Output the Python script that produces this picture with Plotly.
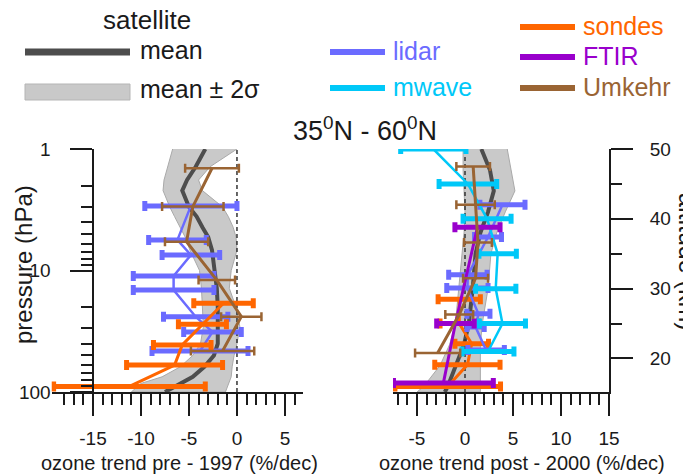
import plotly.graph_objects as go

W, H = 683, 475
FONT = "Liberation Sans, Arial, sans-serif"

# ---------------- colours ----------------
C_MEAN = "#4d4d4d"
C_BAND = "#c9c9c9"
C_BAND_EDGE = "#a9a9a9"
C_LIDAR = "#6b6bff"
C_MWAVE = "#00c8f8"
C_SONDES = "#ff6600"
C_FTIR = "#9900cc"
C_UMK = "#9a6433"

# ---------------- left panel: pre-1997 trends vs pressure (hPa) ----------------
sat_pre_p = [1, 1.4, 1.8, 2.2, 3, 3.6, 4.4, 5.3, 6.8, 10, 14, 20, 29, 40, 50, 62, 75, 85, 100]
sat_pre_mean = [-3.3, -4.3, -5.2, -5.7, -5.0, -4.2, -3.6, -3.0, -2.6, -2.3, -2.1, -2.0, -2.0, -2.0, -2.4, -3.4, -4.6, -5.8, -7.5]
sat_pre_lo = [-6.7, -7.2, -7.6, -7.7, -7.0, -6.5, -5.9, -5.4, -4.9, -3.9, -3.7, -3.6, -3.5, -3.8, -4.6, -5.9, -7.8, -10.0, -11.0]
sat_pre_hi = [0.0, -2.8, -4.0, -3.6, -1.5, -0.9, -0.4, -0.1, 0.0, -0.6, -0.8, -0.1, 0.3, 0.0, -0.3, -0.5, -0.6, -0.9, -1.2]

lidar_pre_p = [2.94, 5.6, 7.45, 11.1, 14.5, 24, 32, 46]
lidar_pre_trend = [-4.8, -6.2, -4.8, -6.6, -6.6, -4.3, -2.55, -3.85]
lidar_pre_err = [4.8, 3.0, 3.0, 4.2, 4.2, 3.35, 3.0, 5.0]

sondes_pre_p = [18.6, 27.7, 41, 60, 90]
sondes_pre_trend = [-1.4, -3.6, -5.7, -6.5, -11.2]
sondes_pre_err = [3.1, 2.5, 3.0, 5.0, 7.9]

umkehr_pre_p = [1.44, 2.98, 5.8, 12, 24, 46]
umkehr_pre_trend = [-2.6, -4.6, -5.25, -2.1, 0.45, -1.5]
umkehr_pre_err = [2.8, 3.2, 2.25, 1.9, 2.1, 3.3]

# ---------------- right panel: post-2000 trends vs altitude (km) ----------------
sat_post_z = [50, 47, 44, 41, 38, 35, 30, 25, 22, 19, 16, 15.2]
sat_post_mean = [1.7, 2.6, 3.0, 2.4, 1.6, 1.1, 0.8, 0.4, -0.1, -0.9, -1.8, -2.1]
sat_post_lo = [-0.2, -0.2, -0.1, 0.0, -0.1, -0.3, -0.6, -1.0, -1.6, -2.6, -4.3, -5.0]
sat_post_hi = [4.4, 4.8, 5.2, 4.2, 3.3, 2.7, 2.4, 1.8, 1.6, 1.6, 1.6, 1.6]

mwave_post_z = [50, 45, 40, 35, 30, 25, 21]
mwave_post_trend = [-3.3, 0.3, 2.3, 3.4, 3.2, 3.9, 2.4]
mwave_post_err = [3.4, 3.0, 2.5, 1.95, 2.1, 2.4, 2.7]

lidar_post_z = [42, 37.4, 32, 30.1, 26.4, 24.5, 21.2]
lidar_post_trend = [3.9, 2.4, 0.3, 0.25, 1.4, 1.1, 2.2]
lidar_post_err = [2.35, 1.4, 2.0, 2.15, 1.2, 0.9, 1.9]

ftir_post_z = [38.8, 25.0, 16.5]
ftir_post_trend = [1.3, -1.0, -2.25]
ftir_post_err = [2.35, 1.95, 5.2]

sondes_post_z = [28.5, 25.0, 22.1, 19.1, 16.0]
sondes_post_trend = [-0.6, -0.6, 0.7, 0.25, -1.8]
sondes_post_err = [2.2, 2.0, 1.75, 3.4, 5.5]

umkehr_post_z = [47.5, 42.0, 36.6, 31.5, 26.3, 20.8]
umkehr_post_trend = [0.85, 1.1, 1.35, 1.1, -0.6, -2.85]
umkehr_post_err = [1.75, 2.0, 1.45, 1.3, 1.45, 2.35]

# ---------------- axes ----------------
pre_xrange = [-19.3, 6.9]
pre_xticks = [-15, -10, -5, 0, 5]
pre_xminor = list(range(-18, 7))
post_xrange = [-7.5, 15]
post_xticks = [-5, 0, 5, 10, 15]
post_xminor = list(range(-7, 15))
p_range = [100, 1]
p_ticks = [1, 10, 100]
p_minor = [2, 3, 4, 5, 6, 7, 8, 9, 20, 30, 40, 50, 60, 70, 80, 90]
z_range = [15.2, 50]
z_ticks = [20, 30, 40, 50]
z_minor = [25, 35, 45]


def fx(px):
    return px / W


def fy(py):
    return 1 - py / H


def lbl(v):
    return str(v)  # plain hyphen-minus like the reference


fig = go.Figure()


def band(lo, hi, y, xa, ya):
    fig.add_trace(go.Scatter(
        x=lo + hi[::-1], y=y + y[::-1], mode="lines", fill="toself",
        fillcolor=C_BAND, line=dict(color=C_BAND_EDGE, width=1),
        xaxis=xa, yaxis=ya, showlegend=False, hoverinfo="skip"))


def line(x, y, color, w, xa, ya, dash=None):
    fig.add_trace(go.Scatter(
        x=x, y=y, mode="lines", line=dict(color=color, width=w, dash=dash),
        xaxis=xa, yaxis=ya, showlegend=False, hoverinfo="skip"))


def instr(x, y, err, color, lw, thick, capw, xa, ya):
    fig.add_trace(go.Scatter(
        x=x, y=y, mode="lines", line=dict(color=color, width=lw),
        error_x=dict(type="data", array=err, visible=True, color=color,
                     thickness=thick, width=capw),
        xaxis=xa, yaxis=ya, showlegend=False, hoverinfo="skip"))


# left panel
band(sat_pre_lo, sat_pre_hi, sat_pre_p, "x", "y")
line(sat_pre_mean, sat_pre_p, C_MEAN, 4, "x", "y")
line([0, 0], p_range, "#333333", 1.5, "x", "y", dash="4px,3px")
instr(lidar_pre_trend, lidar_pre_p, lidar_pre_err, C_LIDAR, 2.5, 5, 5, "x", "y")
instr(sondes_pre_trend, sondes_pre_p, sondes_pre_err, C_SONDES, 3, 5, 5, "x", "y")
instr(umkehr_pre_trend, umkehr_pre_p, umkehr_pre_err, C_UMK, 3, 2.5, 4.5, "x", "y")

# right panel
band(sat_post_lo, sat_post_hi, sat_post_z, "x2", "y2")
line(sat_post_mean, sat_post_z, C_MEAN, 4, "x2", "y2")
line([0, 0], z_range, "#333333", 1.5, "x2", "y2", dash="4px,3px")
instr(sondes_post_trend, sondes_post_z, sondes_post_err, C_SONDES, 3, 5, 5, "x2", "y2")
instr(lidar_post_trend, lidar_post_z, lidar_post_err, C_LIDAR, 2.5, 5, 5, "x2", "y2")
instr(mwave_post_trend, mwave_post_z, mwave_post_err, C_MWAVE, 2.5, 5, 5, "x2", "y2")
instr(ftir_post_trend, ftir_post_z, ftir_post_err, C_FTIR, 3, 5, 5, "x2", "y2")
instr(umkehr_post_trend, umkehr_post_z, umkehr_post_err, C_UMK, 3, 2.5, 4.5, "x2", "y2")

tickfont = dict(family=FONT, size=19, color="#1a1a1a")
common = dict(showgrid=False, zeroline=False, showline=True, linecolor="#1a1a1a",
              linewidth=2, ticks="outside", tickwidth=2, tickcolor="#1a1a1a",
              ticklen=22, tickfont=tickfont, automargin=False)


def minor(vals):
    return dict(tickmode="array", tickvals=vals, ticklen=11, tickwidth=1.5,
                tickcolor="#1a1a1a", ticks="outside")


y_dom = [fy(392), fy(149)]

fig.update_layout(
    width=W, height=H, margin=dict(l=0, r=0, t=0, b=0),
    paper_bgcolor="white", plot_bgcolor="rgba(0,0,0,0)",
    font=dict(family=FONT, color="#1a1a1a"),
    xaxis=dict(domain=[fx(51.7), fx(303.2)], range=pre_xrange, anchor="y",
               tickmode="array", tickvals=pre_xticks,
               ticktext=[lbl(v) for v in pre_xticks], ticklabelstandoff=6,
               minor=minor(pre_xminor), **common),
    yaxis=dict(domain=y_dom, type="log", range=[2, 0], anchor="free",
               position=fx(92.5), side="left",
               tickmode="array", tickvals=p_ticks, ticktext=[lbl(v) for v in p_ticks],
               ticklabelstandoff=15, minor=minor(p_minor), **common),
    xaxis2=dict(domain=[fx(393), fx(609)], range=post_xrange, anchor="y2",
                tickmode="array", tickvals=post_xticks,
                ticktext=[lbl(v) for v in post_xticks], ticklabelstandoff=6,
                minor=minor(post_xminor), **common),
    yaxis2=dict(domain=y_dom, range=z_range, anchor="x2", side="right",
                tickmode="array", tickvals=z_ticks, ticktext=[lbl(v) for v in z_ticks],
                ticklabelstandoff=13, minor=minor(z_minor), **common),
)

ann = []
shapes = []


def text(s, x, y, size, color="#1a1a1a", xanchor="center", angle=0):
    ann.append(dict(text=s, x=fx(x), y=fy(y), xref="paper", yref="paper",
                    showarrow=False, xanchor=xanchor, yanchor="middle",
                    textangle=angle, font=dict(family=FONT, size=size, color=color)))


text("35<sup>0</sup>N - 60<sup>0</sup>N", 365, 129, 27)
text("pressure (hPa)", 23, 265, 24, angle=-90)
text("altitude (km)", 688, 262, 25, angle=90)
text("ozone trend pre - 1997 (%/dec)", 179, 463, 20)
text("ozone trend post - 2000 (%/dec)", 522, 463, 20)

# legend
text("satellite", 147, 20, 26)
shapes.append(dict(type="line", xref="paper", yref="paper", x0=fx(25), x1=fx(130),
                   y0=fy(52), y1=fy(52), line=dict(color=C_MEAN, width=7)))
text("mean", 138, 50, 25, xanchor="left")
shapes.append(dict(type="rect", xref="paper", yref="paper", x0=fx(25), x1=fx(130),
                   y0=fy(100), y1=fy(84), fillcolor=C_BAND,
                   line=dict(color="#b5b5b5", width=1)))
text("mean ± 2σ", 138, 89, 25, xanchor="left")

legend_items = [
    ("lidar", C_LIDAR, 330, 52),
    ("mwave", C_MWAVE, 330, 88),
    ("sondes", C_SONDES, 520, 27),
    ("FTIR", C_FTIR, 520, 57),
    ("Umkehr", C_UMK, 520, 88),
]
for name, col, x0, yy in legend_items:
    shapes.append(dict(type="line", xref="paper", yref="paper", x0=fx(x0), x1=fx(x0 + 55),
                       y0=fy(yy), y1=fy(yy), line=dict(color=col, width=6)))
    text(name, x0 + 61, yy - 1, 25, color=col, xanchor="left")

fig.update_layout(annotations=ann, shapes=shapes)
fig.write_html("out.html", config={"displayModeBar": False},
               post_script="document.body.style.margin='0';")
